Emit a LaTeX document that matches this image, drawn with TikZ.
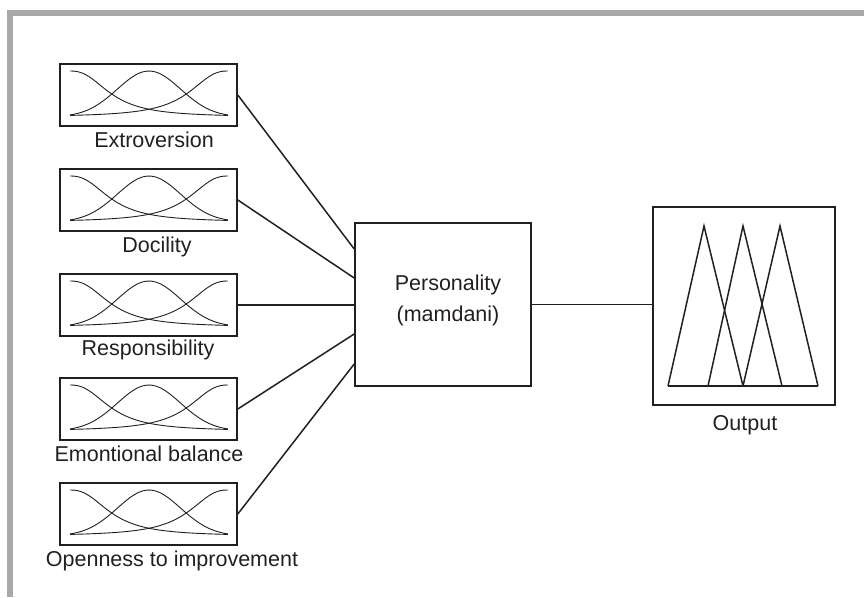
\documentclass[tikz,border=0pt]{standalone}
\usepackage{fontspec}
\setmainfont{Liberation Sans}
\definecolor{ink}{HTML}{231F20}
\definecolor{frame}{HTML}{A9A9AB}
\begin{document}
\begin{tikzpicture}[x=1pt,y=-1pt,
  inbox/.style={draw=ink,line width=1.6pt,minimum width=177pt,minimum height=62pt,inner sep=0pt},
  bigbox/.style={draw=ink,line width=1.6pt,inner sep=0pt},
  lbl/.style={text=ink,font=\fontsize{21.5}{31}\selectfont,anchor=base,inner sep=0pt},
  mf/.style={ink,line width=0.9pt},
  conn/.style={ink,line width=1.5pt},
  tri/.style={ink,line width=1.5pt,line join=miter}]
\useasboundingbox (0,0) rectangle (864,597);
\fill[frame] (7,10) rectangle (864,15.5);
\fill[frame] (7,10) rectangle (12.5,597);
% input boxes
\foreach \i/\t in {1/64,2/169,3/274,4/378,5/483}{
  \node[inbox] (b\i) at (148.5,\t+31) {};
  \pgfmathsetmacro{\yb}{\t+53}
  \draw[mf] plot[smooth,domain=0.001:1,samples=40] ({70+158*\x},{\yb-46/(1+(\x/0.264)^2.5)});
  \draw[mf] plot[smooth,domain=0:1,samples=40] ({70+158*\x},{\yb-46*exp(-((\x-0.5)^2)/0.08)});
  \draw[mf] plot[smooth,domain=0.001:1,samples=40] ({228-158*\x},{\yb-46/(1+(\x/0.264)^2.5)});
}
\node[lbl] (l1) at (154,147) {Extroversion};
\node[lbl] (l2) at (157,252) {Docility};
\node[lbl] (l3) at (148,355) {Responsibility};
\node[lbl] (l4) at (149,461) {Emontional balance};
\node[lbl] (l5) at (172,566) {Openness to improvement};
% personality
\node[bigbox,minimum width=176pt,minimum height=163pt] (P) at (443,304.5) {};
\node[lbl] (p1) at (448,290) {Personality};
\node[lbl] (p2) at (448,321) {(mamdani)};
\draw[conn] (b1.east) -- ([yshift=55.5pt]P.west);
\draw[conn] (b2.east) -- ([yshift=26.5pt]P.west);
\draw[conn] (b3.east) -- (b3.east -| P.west);
\draw[conn] (b4.east) -- ([yshift=-29.5pt]P.west);
\draw[conn] (b5.east) -- ([yshift=-59.5pt]P.west);
% output
\node[bigbox,minimum width=182pt,minimum height=198pt] (O) at (744,306) {};
\node[lbl] (ol) at (745,430) {Output};
\draw[conn] (P.east) -- (P.east -| O.west);
\draw[tri] (668,386) -- (704,226) -- (743,386);
\draw[tri] (708,386) -- (743,226) -- (782,386);
\draw[tri] (743,386) -- (780,226) -- (818,386);
\draw[tri] (668,386) -- (818,386);
\end{tikzpicture}
\end{document}
